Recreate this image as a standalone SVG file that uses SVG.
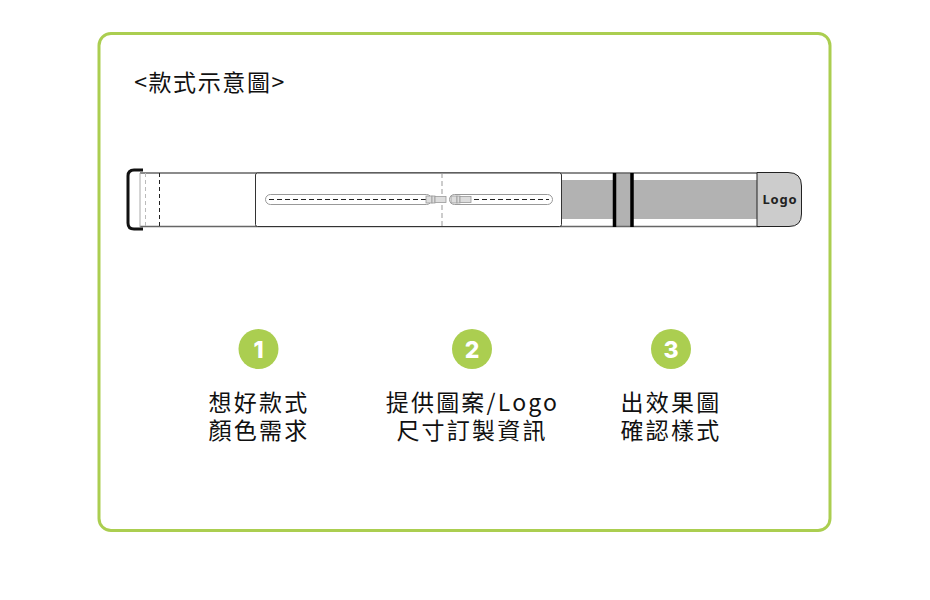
<svg xmlns="http://www.w3.org/2000/svg" width="930" height="600" viewBox="0 0 930 600">
<style>
.t{font-family:"Noto Sans CJK TC","Noto Sans",sans-serif;font-size:23px;letter-spacing:2.2px;fill:#111;text-anchor:middle;font-weight:400}
.n{font-family:"Inter","Noto Sans",sans-serif;font-size:23px;font-weight:800;fill:#fff;text-anchor:middle}
.c{fill:#abce50}
.d{fill:none;stroke:#222;stroke-width:1;stroke-dasharray:5 3}
.g{fill:none;stroke:#999;stroke-width:1}
.zp{fill:#ddd;stroke:#999;stroke-width:.8}
</style>
<rect id="frame" x="99" y="33.500" width="731" height="497" rx="12" fill="#fff" stroke="#abce50" stroke-width="3"/>
<text id="title" x="210" y="91" class="t" style="letter-spacing:1.6px">&lt;款式示意圖&gt;</text>
<g id="strap">
<rect x="140" y="173" width="620" height="54" fill="#fff"/>
<rect x="561" y="180" width="197" height="39" fill="#b2b2b2"/>
<rect x="614" y="173" width="19" height="54" fill="#b2b2b2"/>
<path d="M140 173H760M140 226.500H760" stroke="#666" stroke-width="1.300" fill="none"/>
<path d="M140 173V227" stroke="#aaa" stroke-width="1" fill="none"/>
<path d="M145.500 173V227" fill="none" stroke="#bbb" stroke-dasharray="4 3"/>
<path d="M159.500 173V227" class="d" style="stroke-dasharray:4 3"/>
<path d="M614.500 173V227M632 173V227" stroke="#000" stroke-width="3.500" fill="none"/>
</g>
<g id="buckle"><path d="M143 170H134Q128 170 128 176V223Q128 229 134 229H143" fill="none" stroke="#111" stroke-width="3"/></g>
<g id="pocket">
<rect x="255.500" y="173" width="306" height="53.500" rx="2" fill="#fff" stroke="#333" stroke-width="1"/>
<path d="M442 173V227" fill="none" stroke="#999" stroke-dasharray="5 3"/>
<rect x="265.500" y="194.500" width="166" height="10" rx="5" class="g"/>
<rect x="449.500" y="194.500" width="103" height="10" rx="5" class="g"/>
<path d="M269 199.500H426M474 199.500H549" class="d"/>
<rect x="426" y="196" width="6" height="7" class="zp"/><rect x="432" y="196" width="3" height="7" class="zp"/><rect x="435" y="196.500" width="11" height="6" class="zp"/>
<rect x="451" y="196" width="6" height="7" class="zp"/><rect x="457" y="196" width="3" height="7" class="zp"/><rect x="460" y="196.500" width="11" height="6" class="zp"/>
</g>
<g id="logo-tab">
<path d="M757 172.500H788Q801.500 172.500 801.500 186V214Q801.500 226.500 789 226.500H757Z" fill="#ccc" stroke="#222" stroke-width="1"/>
<text x="780" y="204" text-anchor="middle" style="font-family:'Noto Sans','Open Sans',sans-serif;font-size:13px;font-weight:700;letter-spacing:.8px" fill="#222">Logo</text>
</g>
<g id="step1"><circle cx="258.500" cy="349" r="20" class="c"/><text x="258.500" y="357.500" class="n">1</text>
<text class="t"><tspan x="259" y="411">想好款式</tspan><tspan x="259" y="439">顏色需求</tspan></text></g>
<g id="step2"><circle cx="472" cy="349" r="20" class="c"/><text x="472" y="357.500" class="n">2</text>
<text class="t"><tspan x="472.500" y="411">提供圖案/Logo</tspan><tspan x="472" y="439">尺寸訂製資訊</tspan></text></g>
<g id="step3"><circle cx="671" cy="349" r="20" class="c"/><text x="671" y="357.500" class="n">3</text>
<text class="t"><tspan x="671" y="411">出效果圖</tspan><tspan x="671" y="439">確認樣式</tspan></text></g>
</svg>
